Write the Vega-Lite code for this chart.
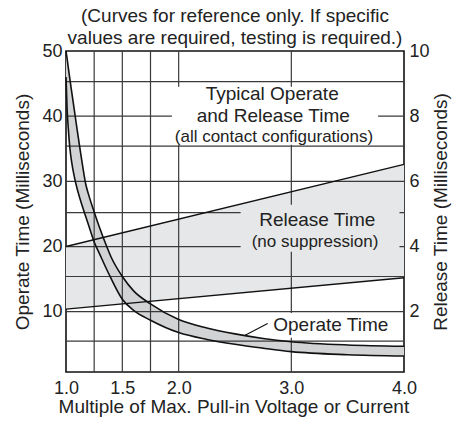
{
  "$schema": "https://vega.github.io/schema/vega-lite/v6.json",
  "autosize": {"type": "none"},
  "padding": {"left": 66, "top": 51, "right": 49, "bottom": 52},
  "width": 338,
  "height": 321,
  "title": {
    "text": ["(Curves for reference only. If specific", "values are required, testing is required.)"],
    "fontSize": 19, "font": "Liberation Sans", "fontWeight": "normal", "color": "#222",
    "lineHeight": 22, "offset": -6, "anchor": "middle", "frame": "group"
  },
  "datasets": {
    "operate": [
      {"x": 1.0, "lo": 46, "hi": 50},
      {"x": 1.01, "lo": 41, "hi": 48.8},
      {"x": 1.02, "lo": 38.2, "hi": 47.5},
      {"x": 1.035, "lo": 35.0, "hi": 45.6},
      {"x": 1.05, "lo": 33.0, "hi": 43.8},
      {"x": 1.075, "lo": 30.6, "hi": 40.8},
      {"x": 1.1, "lo": 28.8, "hi": 37.8},
      {"x": 1.125, "lo": 27.3, "hi": 34.9},
      {"x": 1.15, "lo": 25.9, "hi": 32.1},
      {"x": 1.175, "lo": 24.6, "hi": 29.6},
      {"x": 1.2, "lo": 23.3, "hi": 28.0},
      {"x": 1.25, "lo": 20.7, "hi": 25.3},
      {"x": 1.3, "lo": 18.8, "hi": 22.8},
      {"x": 1.35, "lo": 16.9, "hi": 20.5},
      {"x": 1.4, "lo": 15.1, "hi": 18.4},
      {"x": 1.5, "lo": 11.9, "hi": 15.4},
      {"x": 1.6, "lo": 10.2, "hi": 13.2},
      {"x": 1.75, "lo": 8.7, "hi": 11.2},
      {"x": 2.0, "lo": 6.8, "hi": 8.8},
      {"x": 2.25, "lo": 5.75, "hi": 7.5},
      {"x": 2.5, "lo": 5.0, "hi": 6.6},
      {"x": 2.75, "lo": 4.4, "hi": 5.9},
      {"x": 3.0, "lo": 3.87, "hi": 5.4},
      {"x": 3.5, "lo": 3.4, "hi": 4.9},
      {"x": 4.0, "lo": 3.2, "hi": 4.7}
    ],
    "release": [
      {"x": 1.0, "lo": 2.08, "hi": 4.0},
      {"x": 4.0, "lo": 3.04, "hi": 6.52}
    ],
    "vgrid": [{"x": 1.25}, {"x": 1.5}, {"x": 1.75}, {"x": 2.0}, {"x": 3.0}],
    "hgrid": [{"y": 5.5}, {"y": 10}, {"y": 15.4}, {"y": 20}, {"y": 25.2}, {"y": 30}, {"y": 35.4}, {"y": 40}, {"y": 45.3}],
    "maskWhite": [
      {"x": 1.94, "x2": 3.77, "y": 44.5, "y2": 35.6},
      {"x": 2.79, "x2": 3.92, "y": 9.8, "y2": 6.0}
    ],
    "maskGray": [{"x": 2.55, "x2": 3.96, "y": 26.4, "y2": 19.2}],
    "leader": [{"x": 2.59, "y": 6.4, "x2": 2.79, "y2": 8.2}],
    "labelsLarge": [
      {"x": 2.83, "y": 43.4, "label": "Typical Operate"},
      {"x": 2.84, "y": 40.1, "label": "and Release Time"},
      {"x": 3.23, "y": 24.0, "label": "Release Time"},
      {"x": 3.35, "y": 7.9, "label": "Operate Time"}
    ],
    "labelsSmall": [
      {"x": 2.846, "y": 36.8, "label": "(all contact configurations)"},
      {"x": 3.21, "y": 20.7, "label": "(no suppression)"}
    ]
  },
  "layer": [
    {
      "data": {"name": "release"},
      "mark": {"type": "area", "color": "#e6e7e8"},
      "encoding": {
        "x": {"field": "x", "type": "quantitative", "scale": {"domain": [1, 4], "nice": false, "zero": false},
              "axis": {"values": [1, 1.5, 2, 3, 4], "format": ".1f", "title": "Multiple of Max. Pull-in Voltage or Current", "titleX": 167.4, "titleY": 34.7, "titleBaseline": "middle", "titleAlign": "center", "labelPadding": 7}},
        "y": {"field": "lo", "type": "quantitative", "scale": {"domain": [0.15, 10], "nice": false, "zero": false},
              "axis": {"orient": "right", "values": [2, 4, 6, 8, 10], "title": "Release Time (Milliseconds)",
                       "titleAngle": 270, "titleX": 36, "titleY": 160.5, "titleBaseline": "middle", "titleAlign": "center", "labelPadding": 5}},
        "y2": {"field": "hi"}
      }
    },
    {
      "data": {"name": "operate"},
      "mark": {"type": "area", "color": "#d1d3d4", "interpolate": "monotone"},
      "encoding": {
        "x": {"field": "x", "type": "quantitative", "scale": {"domain": [1, 4], "nice": false, "zero": false},
              "axis": {"values": [1, 1.5, 2, 3, 4], "format": ".1f", "title": "Multiple of Max. Pull-in Voltage or Current", "titleX": 167.4, "titleY": 34.7, "titleBaseline": "middle", "titleAlign": "center", "labelPadding": 7}},
        "y": {"field": "lo", "type": "quantitative", "scale": {"domain": [0.75, 50], "nice": false, "zero": false}, "axis": null},
        "y2": {"field": "hi"}
      }
    },
    {
      "data": {"name": "vgrid"},
      "mark": {"type": "rule", "color": "#3a3a3a", "strokeWidth": 1.2},
      "encoding": {
        "x": {"field": "x", "type": "quantitative", "scale": {"domain": [1, 4], "nice": false, "zero": false},
              "axis": {"values": [1, 1.5, 2, 3, 4], "format": ".1f", "title": "Multiple of Max. Pull-in Voltage or Current", "titleX": 167.4, "titleY": 34.7, "titleBaseline": "middle", "titleAlign": "center", "labelPadding": 7}}
      }
    },
    {
      "data": {"name": "hgrid"},
      "mark": {"type": "rule", "color": "#3a3a3a", "strokeWidth": 1.2},
      "encoding": {
        "y": {"field": "y", "type": "quantitative", "scale": {"domain": [0.75, 50], "nice": false, "zero": false},
              "axis": {"values": [10, 20, 30, 40, 50], "title": "Operate Time (Milliseconds)",
                       "titleAngle": 270, "titleX": -44, "titleY": 160.5, "titleBaseline": "middle", "titleAlign": "center", "labelPadding": 4}}
      }
    },
    {
      "data": {"name": "maskWhite"},
      "mark": {"type": "rect", "color": "white"},
      "encoding": {
        "x": {"field": "x", "type": "quantitative", "scale": {"domain": [1, 4], "nice": false, "zero": false},
              "axis": {"values": [1, 1.5, 2, 3, 4], "format": ".1f", "title": "Multiple of Max. Pull-in Voltage or Current", "titleX": 167.4, "titleY": 34.7, "titleBaseline": "middle", "titleAlign": "center", "labelPadding": 7}},
        "x2": {"field": "x2"},
        "y": {"field": "y", "type": "quantitative", "scale": {"domain": [0.75, 50], "nice": false, "zero": false}, "axis": null},
        "y2": {"field": "y2"}
      }
    },
    {
      "data": {"name": "maskGray"},
      "mark": {"type": "rect", "color": "#e6e7e8"},
      "encoding": {
        "x": {"field": "x", "type": "quantitative", "scale": {"domain": [1, 4], "nice": false, "zero": false},
              "axis": {"values": [1, 1.5, 2, 3, 4], "format": ".1f", "title": "Multiple of Max. Pull-in Voltage or Current", "titleX": 167.4, "titleY": 34.7, "titleBaseline": "middle", "titleAlign": "center", "labelPadding": 7}},
        "x2": {"field": "x2"},
        "y": {"field": "y", "type": "quantitative", "scale": {"domain": [0.75, 50], "nice": false, "zero": false}, "axis": null},
        "y2": {"field": "y2"}
      }
    },
    {
      "data": {"name": "release"},
      "mark": {"type": "line", "color": "#111", "strokeWidth": 1.4},
      "encoding": {
        "x": {"field": "x", "type": "quantitative", "scale": {"domain": [1, 4], "nice": false, "zero": false},
              "axis": {"values": [1, 1.5, 2, 3, 4], "format": ".1f", "title": "Multiple of Max. Pull-in Voltage or Current", "titleX": 167.4, "titleY": 34.7, "titleBaseline": "middle", "titleAlign": "center", "labelPadding": 7}},
        "y": {"field": "lo", "type": "quantitative", "scale": {"domain": [0.15, 10], "nice": false, "zero": false}, "axis": null}
      }
    },
    {
      "data": {"name": "release"},
      "mark": {"type": "line", "color": "#111", "strokeWidth": 1.4},
      "encoding": {
        "x": {"field": "x", "type": "quantitative", "scale": {"domain": [1, 4], "nice": false, "zero": false},
              "axis": {"values": [1, 1.5, 2, 3, 4], "format": ".1f", "title": "Multiple of Max. Pull-in Voltage or Current", "titleX": 167.4, "titleY": 34.7, "titleBaseline": "middle", "titleAlign": "center", "labelPadding": 7}},
        "y": {"field": "hi", "type": "quantitative", "scale": {"domain": [0.15, 10], "nice": false, "zero": false}, "axis": null}
      }
    },
    {
      "data": {"name": "operate"},
      "mark": {"type": "line", "color": "#111", "strokeWidth": 1.6, "interpolate": "monotone"},
      "encoding": {
        "x": {"field": "x", "type": "quantitative", "scale": {"domain": [1, 4], "nice": false, "zero": false},
              "axis": {"values": [1, 1.5, 2, 3, 4], "format": ".1f", "title": "Multiple of Max. Pull-in Voltage or Current", "titleX": 167.4, "titleY": 34.7, "titleBaseline": "middle", "titleAlign": "center", "labelPadding": 7}},
        "y": {"field": "lo", "type": "quantitative", "scale": {"domain": [0.75, 50], "nice": false, "zero": false}, "axis": null}
      }
    },
    {
      "data": {"name": "operate"},
      "mark": {"type": "line", "color": "#111", "strokeWidth": 1.6, "interpolate": "monotone"},
      "encoding": {
        "x": {"field": "x", "type": "quantitative", "scale": {"domain": [1, 4], "nice": false, "zero": false},
              "axis": {"values": [1, 1.5, 2, 3, 4], "format": ".1f", "title": "Multiple of Max. Pull-in Voltage or Current", "titleX": 167.4, "titleY": 34.7, "titleBaseline": "middle", "titleAlign": "center", "labelPadding": 7}},
        "y": {"field": "hi", "type": "quantitative", "scale": {"domain": [0.75, 50], "nice": false, "zero": false}, "axis": null}
      }
    },
    {
      "data": {"name": "leader"},
      "mark": {"type": "rule", "color": "#111", "strokeWidth": 1.1},
      "encoding": {
        "x": {"field": "x", "type": "quantitative", "scale": {"domain": [1, 4], "nice": false, "zero": false},
              "axis": {"values": [1, 1.5, 2, 3, 4], "format": ".1f", "title": "Multiple of Max. Pull-in Voltage or Current", "titleX": 167.4, "titleY": 34.7, "titleBaseline": "middle", "titleAlign": "center", "labelPadding": 7}},
        "x2": {"field": "x2"},
        "y": {"field": "y", "type": "quantitative", "scale": {"domain": [0.75, 50], "nice": false, "zero": false}, "axis": null},
        "y2": {"field": "y2"}
      }
    },
    {
      "data": {"name": "labelsLarge"},
      "mark": {"type": "text", "fontSize": 19, "font": "Liberation Sans", "color": "#222", "baseline": "middle", "align": "center"},
      "encoding": {
        "x": {"field": "x", "type": "quantitative", "scale": {"domain": [1, 4], "nice": false, "zero": false},
              "axis": {"values": [1, 1.5, 2, 3, 4], "format": ".1f", "title": "Multiple of Max. Pull-in Voltage or Current", "titleX": 167.4, "titleY": 34.7, "titleBaseline": "middle", "titleAlign": "center", "labelPadding": 7}},
        "y": {"field": "y", "type": "quantitative", "scale": {"domain": [0.75, 50], "nice": false, "zero": false}, "axis": null},
        "text": {"field": "label"}
      }
    },
    {
      "data": {"name": "labelsSmall"},
      "mark": {"type": "text", "fontSize": 17, "font": "Liberation Sans", "color": "#222", "baseline": "middle", "align": "center"},
      "encoding": {
        "x": {"field": "x", "type": "quantitative", "scale": {"domain": [1, 4], "nice": false, "zero": false},
              "axis": {"values": [1, 1.5, 2, 3, 4], "format": ".1f", "title": "Multiple of Max. Pull-in Voltage or Current", "titleX": 167.4, "titleY": 34.7, "titleBaseline": "middle", "titleAlign": "center", "labelPadding": 7}},
        "y": {"field": "y", "type": "quantitative", "scale": {"domain": [0.75, 50], "nice": false, "zero": false}, "axis": null},
        "text": {"field": "label"}
      }
    }
  ],
  "resolve": {"scale": {"y": "independent"}},
  "config": {
    "view": {"stroke": "#111", "strokeWidth": 1.6},
    "axis": {
      "labelFont": "Liberation Sans", "titleFont": "Liberation Sans",
      "labelFontSize": 18, "titleFontSize": 19,
      "labelColor": "#222", "titleColor": "#222", "titleFontWeight": "normal",
      "domain": false, "ticks": false, "grid": false, "labelFlush": false
    }
  }
}
